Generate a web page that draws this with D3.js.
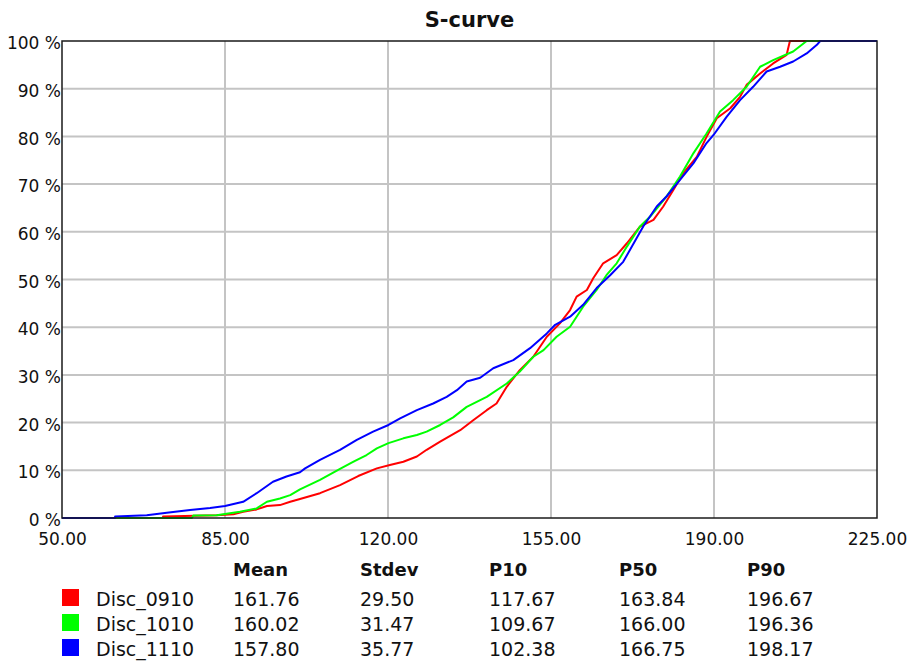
<!DOCTYPE html>
<html>
<head>
<meta charset="utf-8">
<script src="https://cdn.jsdelivr.net/npm/d3@7"></script>
<style>
  body { margin: 0; background: #fff; }
  text { font-family: "DejaVu Sans", sans-serif; fill: #111; }
</style>
</head>
<body>
<script>
// series
var names = ['Disc_0910', 'Disc_1010', 'Disc_1110'];

// s-curve points: value, cumulative percent
var disc0910 = [
  [50, 0], [71.7, 0], [71.7, 0.3], [83.2, 0.6], [86.8, 0.8], [88.9, 1.3], [91.8, 1.8],
  [94.0, 2.5], [96.8, 2.7], [99.0, 3.4], [101.1, 4.0], [105.4, 5.2], [109.7, 6.9],
  [113.6, 8.8], [117.6, 10.4], [120.4, 11.1], [123.3, 11.8], [126.2, 12.9], [128.3, 14.3],
  [131.2, 16.0], [135.5, 18.4], [138.3, 20.5], [141.2, 22.6], [143.3, 24.0], [145.5, 27.5],
  [148.3, 31.0], [151.2, 33.8], [154.1, 38.0], [156.9, 40.8], [159.1, 43.6], [160.5, 46.4],
  [162.7, 47.8], [164.1, 50.3], [166.2, 53.4], [169.1, 55.1], [171.3, 57.6], [174.1, 61.1],
  [177.0, 62.5], [179.1, 65.3], [181.3, 68.8], [183.4, 72.3], [186.3, 75.7], [188.4, 79.9],
  [190.6, 83.8], [193.5, 85.9], [195.6, 88.3], [197.0, 90.8], [199.9, 93.2], [202.7, 95.3],
  [205.6, 97.1], [206.3, 100], [225, 100]
];
var disc1010 = [
  [50, 0], [77.9, 0], [78.2, 0.5], [83.2, 0.6], [88.2, 1.3], [91.8, 2.0], [94.0, 3.4],
  [96.8, 4.1], [99.0, 4.8], [101.1, 6.0], [105.4, 8.0], [109.7, 10.3], [112.6, 11.8],
  [115.4, 13.2], [117.6, 14.6], [120.1, 15.7], [123.3, 16.7], [126.2, 17.4], [128.3, 18.1],
  [131.2, 19.5], [134.0, 21.1], [136.9, 23.3], [141.2, 25.4], [145.5, 28.2], [148.3, 30.7],
  [151.2, 33.8], [153.4, 35.2], [156.2, 38.0], [159.1, 40.1], [161.9, 44.3], [164.8, 47.8],
  [166.9, 50.9], [169.1, 53.4], [171.3, 56.9], [174.1, 61.1], [176.3, 63.2], [179.8, 67.4],
  [182.7, 71.6], [185.6, 76.5], [188.4, 80.6], [191.3, 85.2], [194.1, 87.6], [197.0, 90.4],
  [199.9, 94.6], [202.7, 96.0], [207.0, 97.8], [209.9, 100], [225, 100]
];
var disc1110 = [
  [50, 0], [61.4, 0], [61.4, 0.3], [68.2, 0.6], [72.5, 1.1], [77.5, 1.7], [81.8, 2.1],
  [85.0, 2.5], [88.9, 3.4], [91.8, 5.2], [95.3, 7.6], [98.2, 8.7], [101.1, 9.6],
  [102.2, 10.4], [105.4, 12.2], [109.7, 14.3], [113.3, 16.4], [116.8, 18.1], [120.1, 19.5],
  [122.6, 20.9], [126.2, 22.6], [129.7, 24.0], [132.6, 25.4], [134.8, 26.8], [136.9, 28.6],
  [139.8, 29.4], [142.6, 31.4], [146.9, 33.1], [150.5, 35.6], [154.1, 38.7], [155.9, 40.5],
  [159.1, 42.2], [161.9, 44.7], [164.8, 48.2], [167.7, 50.9], [170.5, 53.7], [174.8, 61.1],
  [177.7, 65.3], [179.8, 67.4], [182.7, 70.9], [185.6, 74.4], [188.4, 78.6], [189.9, 80.3],
  [192.7, 84.1], [195.6, 87.6], [198.4, 90.4], [201.3, 93.6], [204.2, 94.6], [207.0, 95.7],
  [209.9, 97.4], [212.1, 99.2], [212.8, 100], [225, 100]
];

// statistics table
var statHeaders = ['Mean', 'Stdev', 'P10', 'P50', 'P90'];
var means  = ['161.76', '160.02', '157.80'];
var stdevs = ['29.50', '31.47', '35.77'];
var p10s   = ['117.67', '109.67', '102.38'];
var p50s   = ['163.84', '166.00', '166.75'];
var p90s   = ['196.67', '196.36', '198.17'];

var xTicks = [50, 85, 120, 155, 190, 225];
var yTicks = [0, 10, 20, 30, 40, 50, 60, 70, 80, 90, 100];

/**************************************/

var width = 911, height = 661;
var colors = ['#ff0000', '#00ff00', '#0000ff'];
var curves = [disc0910, disc1010, disc1110];

var svg = d3.select('body').append('svg')
    .attr('width', width)
    .attr('height', height);

var plotLeft = 62, plotRight = 877, plotTop = 41, plotBottom = 518;

var x = d3.scaleLinear().domain([50, 225]).range([plotLeft, plotRight]);
var y = d3.scaleLinear().domain([0, 100]).range([plotBottom, plotTop]);

// title
svg.append('text')
    .attr('x', (plotLeft + plotRight) / 2)
    .attr('y', 27)
    .attr('text-anchor', 'middle')
    .style('font-size', '21px')
    .style('font-weight', 'bold')
    .text('S-curve');

// grid
svg.append('g').selectAll('line')
    .data(xTicks.slice(1, -1))
    .enter().append('line')
    .attr('x1', function(d) { return x(d); })
    .attr('x2', function(d) { return x(d); })
    .attr('y1', plotTop).attr('y2', plotBottom)
    .attr('stroke', '#c4c4c4')
    .attr('stroke-width', 2);

svg.append('g').selectAll('line')
    .data(yTicks.slice(1, -1))
    .enter().append('line')
    .attr('y1', function(d) { return y(d); })
    .attr('y2', function(d) { return y(d); })
    .attr('x1', plotLeft).attr('x2', plotRight)
    .attr('stroke', '#c4c4c4')
    .attr('stroke-width', 2);

// axes (labels only, frame drawn below)
var xAxis = svg.append('g')
    .attr('transform', 'translate(0,' + plotBottom + ')')
    .call(d3.axisBottom(x).tickValues(xTicks).tickFormat(d3.format('.2f')).tickSize(0));
xAxis.select('.domain').remove();
xAxis.selectAll('text')
    .attr('y', 27).attr('dy', 0)
    .style('font-size', '17px')
    .style('font-family', '"DejaVu Sans", sans-serif')
    .attr('fill', '#111');

var yAxis = svg.append('g')
    .attr('transform', 'translate(' + plotLeft + ',0)')
    .call(d3.axisLeft(y).tickValues(yTicks).tickFormat(function(d) { return d + ' %'; }).tickSize(0));
yAxis.select('.domain').remove();
yAxis.selectAll('text')
    .attr('x', -1).attr('dy', '0.45em')
    .style('font-size', '17px')
    .style('font-family', '"DejaVu Sans", sans-serif')
    .attr('fill', '#111');

// s-curves
var line = d3.line()
    .x(function(d) { return x(d[0]); })
    .y(function(d) { return y(d[1]); });

svg.append('g').selectAll('path')
    .data(curves)
    .enter().append('path')
    .attr('d', line)
    .attr('fill', 'none')
    .attr('stroke', function(d, i) { return colors[i]; })
    .attr('stroke-width', 2)
    .attr('stroke-linejoin', 'round');

// frame
svg.append('rect')
    .attr('x', plotLeft).attr('y', plotTop)
    .attr('width', plotRight - plotLeft).attr('height', plotBottom - plotTop)
    .attr('fill', 'none')
    .attr('stroke', '#1a1a1a')
    .attr('stroke-width', 1.5);

// legend table
var colX = [233, 360, 489, 619, 747];
var columns = [means, stdevs, p10s, p50s, p90s];

svg.append('g').selectAll('text')
    .data(statHeaders)
    .enter().append('text')
    .attr('x', function(d, i) { return colX[i]; })
    .attr('y', 576)
    .style('font-size', '18px')
    .style('font-weight', 'bold')
    .text(function(d) { return d; });

var rows = svg.append('g').selectAll('g')
    .data(names)
    .enter().append('g')
    .attr('transform', function(d, i) { return 'translate(0,' + (606 + i * 25) + ')'; });

rows.append('rect')
    .attr('x', 62).attr('y', -17)
    .attr('width', 17).attr('height', 17)
    .attr('fill', function(d, i) { return colors[i]; });

rows.append('text')
    .attr('x', 96)
    .style('font-size', '19px')
    .text(function(d) { return d; });

rows.each(function(d, i) {
    var g = d3.select(this);
    columns.forEach(function(col, j) {
        g.append('text')
            .attr('x', colX[j])
            .style('font-size', '19px')
            .text(col[i]);
    });
});
</script>
</body>
</html>
